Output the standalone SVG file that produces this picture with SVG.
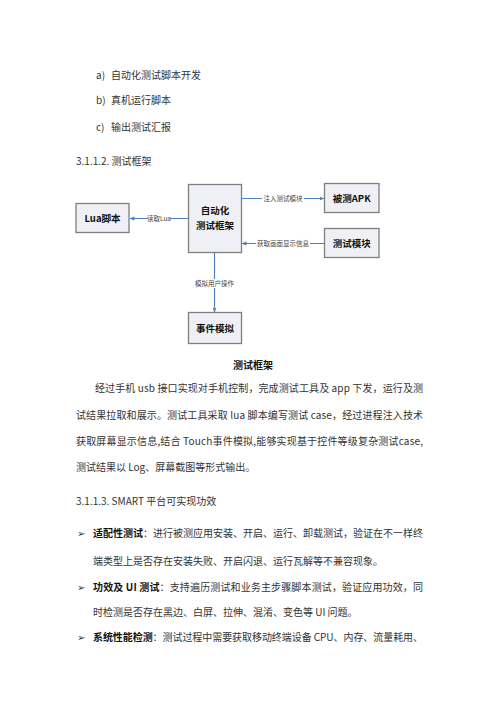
<svg xmlns="http://www.w3.org/2000/svg" width="500" height="707" viewBox="0 0 500 707">
<defs>
<marker id="arr" viewBox="0 0 10 10" refX="9" refY="5" markerWidth="5" markerHeight="5" orient="auto" markerUnits="userSpaceOnUse">
<path d="M0,1 L10,5 L0,9 Z" fill="#4f81bd"/>
</marker>
</defs>
<style>
.body{font-family:"Noto Sans CJK SC","Noto Sans",sans-serif;font-size:10px;fill:#333}
.b{font-weight:bold;fill:#111}
.box{fill:#eef0f5;stroke:#7f7f7f;stroke-width:1.3}
.nl{font-family:"Noto Sans CJK SC","Noto Sans",sans-serif;font-size:9.5px;font-weight:bold;fill:#111;text-anchor:middle}
.el{font-family:"Noto Sans CJK SC","Noto Sans",sans-serif;font-size:6.5px;fill:#444;text-anchor:middle}
.ln{stroke:#4f81bd;stroke-width:1.2;fill:none}
</style>
<rect width="500" height="707" fill="#fff"/>

<text class="body" x="96" y="79">a)</text><text class="body" x="111" y="79">自动化测试脚本开发</text>
<text class="body" x="96" y="104">b)</text><text class="body" x="111" y="104">真机运行脚本</text>
<text class="body" x="96" y="131">c)</text><text class="body" x="111" y="131">输出测试汇报</text>
<text class="body" x="76" y="165">3.1.1.2. 测试框架</text>

<g id="connectors">
<line class="ln" x1="188" y1="218.5" x2="130" y2="218.5" marker-end="url(#arr)"/>
<line class="ln" x1="242" y1="198.5" x2="324" y2="198.5" marker-end="url(#arr)"/>
<line class="ln" x1="324" y1="243.5" x2="242" y2="243.5" marker-end="url(#arr)"/>
<line class="ln" x1="214.5" y1="252" x2="214.5" y2="312" marker-end="url(#arr)"/>
<rect x="148" y="214" width="22" height="9" fill="#fff"/>
<text class="el" x="159" y="220.8">读取Lua</text>
<rect x="262" y="194" width="42" height="9" fill="#fff"/>
<text class="el" x="283" y="200.8">注入测试模块</text>
<rect x="256" y="239" width="54" height="9" fill="#fff"/>
<text class="el" x="283" y="245.8">获取画面显示信息</text>
<rect x="194" y="279" width="41" height="9" fill="#fff"/>
<text class="el" x="214.5" y="285.8">模拟用户操作</text>
</g>

<g id="lua">
<rect class="box" x="76" y="203.5" width="53" height="29"/>
<text class="nl" x="102.5" y="221.5">Lua脚本</text>
</g>
<g id="framework">
<rect class="box" x="188.5" y="184.5" width="53" height="68"/>
<text class="nl" x="215" y="213.5">自动化</text>
<text class="nl" x="215" y="228.5">测试框架</text>
</g>
<g id="apk">
<rect class="box" x="324.5" y="183.5" width="54.5" height="29"/>
<text class="nl" x="351.7" y="201.5">被测APK</text>
</g>
<g id="testmodule">
<rect class="box" x="324.5" y="228.5" width="54.5" height="29"/>
<text class="nl" x="351.7" y="246.5">测试模块</text>
</g>
<g id="event">
<rect class="box" x="188.5" y="312.5" width="53" height="31"/>
<text class="nl" x="215" y="331.5">事件模拟</text>
</g>

<text class="body b" x="253" y="369" text-anchor="middle">测试框架</text>

<text class="body" x="95" y="392" textLength="328" lengthAdjust="spacing">经过手机 usb 接口实现对手机控制，完成测试工具及 app 下发，运行及测</text>
<text class="body" x="76" y="419" textLength="347" lengthAdjust="spacing">试结果拉取和展示。测试工具采取 lua 脚本编写测试 case，经过进程注入技术</text>
<text class="body" x="76" y="445" textLength="347" lengthAdjust="spacing">获取屏幕显示信息,结合 Touch事件模拟,能够实现基于控件等级复杂测试case,</text>
<text class="body" x="76" y="471">测试结果以 Log、屏幕截图等形式输出。</text>

<text class="body" x="76" y="505">3.1.1.3. SMART 平台可实现功效</text>

<text class="body" x="77" y="537" font-size="9">➢</text>
<text class="body" x="93" y="537" textLength="330" lengthAdjust="spacing"><tspan class="b">适配性测试</tspan>：进行被测应用安装、开启、运行、卸载测试，验证在不一样终</text>
<text class="body" x="93" y="565">端类型上是否存在安装失败、开启闪退、运行瓦解等不兼容现象。</text>

<text class="body" x="77" y="591" font-size="9">➢</text>
<text class="body" x="93" y="591" textLength="330" lengthAdjust="spacing"><tspan class="b">功效及 UI 测试</tspan>：支持遍历测试和业务主步骤脚本测试，验证应用功效，同</text>
<text class="body" x="93" y="616">时检测是否存在黑边、白屏、拉伸、混淆、变色等 UI 问题。</text>

<text class="body" x="77" y="641" font-size="9">➢</text>
<text class="body" x="93" y="641" textLength="330" lengthAdjust="spacing"><tspan class="b">系统性能检测</tspan>：测试过程中需要获取移动终端设备 CPU、内存、流量耗用、</text>
</svg>
